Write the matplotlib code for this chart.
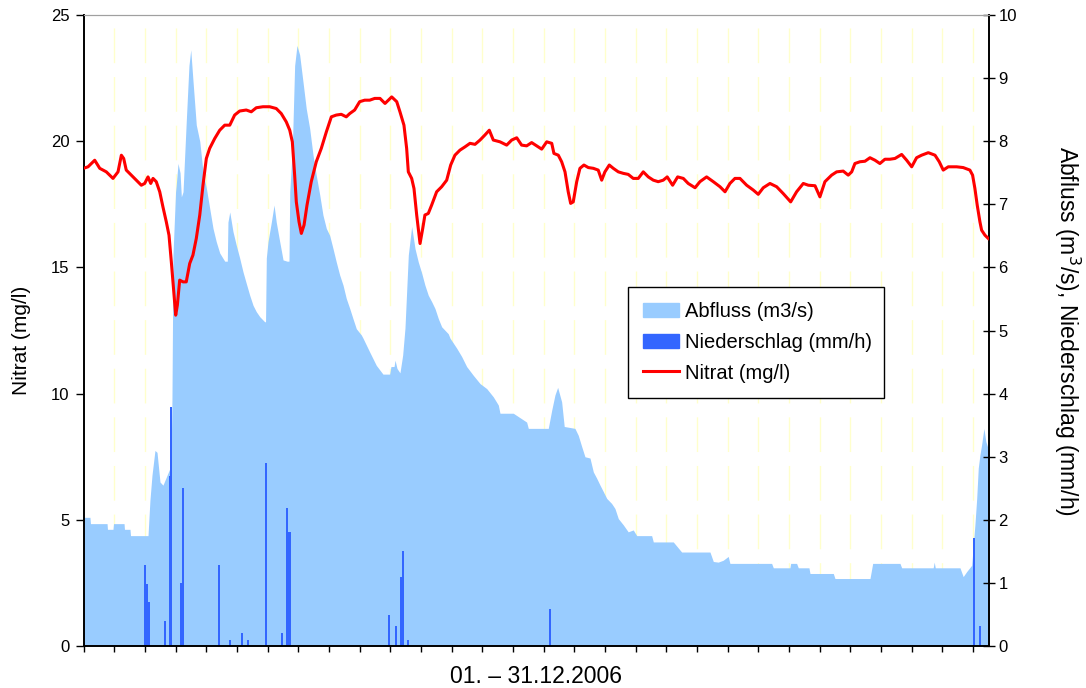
import matplotlib.pyplot as plt
import matplotlib.patches as mpatches
import matplotlib.lines as mlines
import numpy as np

plt.rcParams["font.family"] = ["Liberation Sans", "DejaVu Sans"]

# Zeitachse in Stunden ab 01.12.2006 00:00
T_END = 703.7

# Nitrat (mg/l), linke Achse
nitrat_t = [0, 3.5, 8.7, 12.6, 17.7, 22.9, 26.8, 29.4, 31.2, 33.2, 37.1, 41.0, 44.9,
            47.5, 50.1, 52.2, 54.0, 56.5, 59.2, 61.7, 64.3, 66.4, 68.2, 70.1, 71.6,
            72.9, 74.7, 77.3, 79.8, 82.5, 85.0, 87.6, 90.3, 92.8, 95.4, 98.0, 101.9,
            105.8, 109.7, 113.6, 117.4, 121.3, 126.4, 130.3, 134.2, 139.4, 144.6,
            149.7, 153.6, 157.5, 160.2, 162.2, 164.0, 165.3, 167.4, 169.2, 171.3,
            173.6, 176.9, 180.8, 184.7, 188.6, 192.5, 196.3, 200.2, 204.1, 206.8,
            210.6, 214.5, 218.4, 222.3, 226.2, 230.3, 234.2, 239.4, 243.3, 245.8,
            248.9, 251.0, 252.3, 254.9, 256.7, 258.8, 260.0, 261.4, 263.5, 265.2,
            267.8, 270.4, 274.3, 278.2, 282.1, 285.2, 288.5, 292.4, 296.3, 300.2,
            304.1, 308.0, 311.8, 315.2, 318.3, 323.5, 328.7, 332.6, 336.5, 340.3,
            344.2, 348.1, 352.0, 355.9, 359.8, 363.7, 365.4, 368.8, 371.4, 374.0,
            376.5, 378.4, 380.4, 383.1, 385.6, 388.7, 392.1, 396.0, 399.8, 402.5,
            405.0, 408.4, 411.5, 415.4, 419.3, 423.1, 427.0, 430.9, 434.8, 438.7,
            442.6, 446.4, 450.3, 453.4, 457.6, 461.5, 465.9, 469.7, 475.0, 478.8,
            484.0, 489.2, 494.4, 498.3, 502.1, 506.0, 509.9, 515.1, 520.2, 524.1,
            528.0, 533.2, 538.4, 543.5, 549.3, 553.9, 559.1, 563.0, 568.2, 572.0,
            575.9, 581.1, 585.0, 590.1, 594.0, 596.7, 599.2, 603.1, 607.0, 610.9,
            614.8, 618.6, 622.5, 626.4, 630.3, 635.5, 639.4, 643.3, 647.1, 651.0,
            656.2, 661.4, 664.7, 667.8, 671.7, 678.2, 683.3, 688.5, 690.6, 692.4,
            694.2, 696.3, 697.6, 700.2, 702.8]
nitrat = [18.93, 18.99, 19.25, 18.93, 18.79, 18.53, 18.79, 19.45, 19.32, 18.86, 18.66,
          18.46, 18.26, 18.33, 18.59, 18.33, 18.53, 18.40, 18.00, 17.40, 16.81, 16.28,
          15.23, 14.04, 13.11, 13.51, 14.50, 14.43, 14.43, 15.16, 15.49, 16.15, 17.08,
          18.26, 19.32, 19.72, 20.11, 20.44, 20.64, 20.64, 21.04, 21.20, 21.24, 21.17,
          21.33, 21.37, 21.37, 21.30, 21.10, 20.77, 20.44, 19.98, 18.66, 17.60, 16.81,
          16.35, 16.68, 17.47, 18.40, 19.19, 19.72, 20.37, 20.97, 21.04, 21.07, 20.97,
          21.10, 21.24, 21.57, 21.63, 21.63, 21.70, 21.70, 21.50, 21.76, 21.57, 21.17,
          20.64, 19.72, 18.79, 18.53, 18.13, 17.08, 16.55, 15.95, 16.55, 17.08, 17.14,
          17.47, 18.00, 18.20, 18.46, 19.06, 19.45, 19.65, 19.78, 19.92, 19.88, 20.05,
          20.25, 20.44, 20.05, 19.98, 19.85, 20.05, 20.14, 19.85, 19.82, 19.95, 19.82,
          19.69, 19.98, 19.92, 19.52, 19.45, 19.19, 18.79, 18.00, 17.54, 17.60, 18.40,
          18.93, 19.06, 18.96, 18.93, 18.86, 18.46, 18.79, 19.06, 18.93, 18.79, 18.73,
          18.69, 18.53, 18.53, 18.79, 18.59, 18.46, 18.40, 18.46, 18.59, 18.26, 18.59,
          18.53, 18.33, 18.16, 18.40, 18.59, 18.40, 18.20, 18.00, 18.33, 18.53, 18.53,
          18.26, 18.07, 17.90, 18.16, 18.33, 18.20, 17.93, 17.60, 18.00, 18.33, 18.26,
          18.24, 17.80, 18.40, 18.66, 18.79, 18.82, 18.66, 18.79, 19.12, 19.19, 19.21,
          19.35, 19.25, 19.12, 19.29, 19.29, 19.32, 19.48, 19.25, 18.99, 19.35, 19.45,
          19.55, 19.45, 19.19, 18.86, 18.99, 18.99, 18.96, 18.86, 18.66, 18.13, 17.47,
          16.81, 16.48, 16.28, 16.15]

# Abfluss (m3/s), rechte Achse
abfluss_t = [0, 5.0, 5.4, 18.3, 18.6, 22.9, 23.3, 31.5, 31.8, 36.1, 36.5, 50.1, 51.6,
             53.2, 55.5, 57.1, 59.4, 61.7, 67.2, 67.9, 68.7, 69.5, 71.5, 72.0, 73.4,
             75.0, 76.0, 77.3, 79.8, 81.9, 83.3, 85.0, 87.6, 90.3, 92.8, 95.4, 98.0,
             100.6, 103.1, 105.8, 109.7, 111.7, 112.2, 113.6, 116.1, 118.7, 121.3,
             123.9, 126.4, 129.1, 131.7, 134.2, 136.9, 140.7, 141.4, 142.0, 143.3,
             145.9, 148.0, 149.7, 152.4, 155.0, 158.1, 159.6, 160.2, 162.2, 164.0,
             165.8, 167.9, 170.5, 173.0, 175.7, 178.3, 180.8, 183.5, 186.0, 188.6,
             191.2, 193.8, 196.3, 199.0, 201.6, 204.1, 206.8, 209.3, 211.9, 215.8,
             217.1, 222.3, 227.4, 232.6, 237.8, 238.8, 241.2, 242.0, 243.5, 245.8,
             247.9, 249.7, 252.3, 254.9, 257.5, 260.0, 262.7, 265.2, 267.8, 270.4,
             273.0, 275.6, 278.2, 283.3, 284.7, 289.9, 293.7, 297.6, 302.8, 308.0,
             313.2, 318.3, 322.2, 323.5, 333.8, 344.2, 345.5, 361.0, 363.7, 366.2,
             368.3, 371.4, 373.4, 381.7, 384.3, 387.0, 389.5, 393.4, 396.0, 398.6,
             401.2, 403.7, 406.4, 410.2, 412.8, 415.4, 419.3, 423.1, 427.0, 429.7,
             441.3, 442.6, 458.1, 464.6, 486.6, 489.2, 493.0, 496.9, 500.8, 502.1,
             534.5, 535.8, 548.7, 549.3, 553.9, 555.2, 563.5, 564.3, 582.4, 583.7,
             610.9, 613.0, 634.2, 635.5, 660.0, 660.8, 661.6, 680.8, 683.3, 686.0,
             689.9, 692.4, 693.8, 695.0, 696.3, 697.6, 699.4, 700.9, 702.7, 703.7]
abfluss = [2.04, 2.04, 1.94, 1.94, 1.85, 1.85, 1.94, 1.94, 1.85, 1.85, 1.75, 1.75, 2.31,
           2.71, 3.10, 3.07, 2.60, 2.55, 2.82, 2.82, 3.90, 6.20, 7.20, 7.30, 7.65, 7.50,
           7.12, 7.20, 8.31, 9.20, 9.45, 8.97, 8.26, 8.00, 7.52, 7.26, 6.94, 6.62, 6.41,
           6.23, 6.10, 6.10, 6.72, 6.88, 6.57, 6.35, 6.15, 5.93, 5.75, 5.56, 5.40, 5.30,
           5.22, 5.14, 5.14, 6.15, 6.41, 6.72, 6.99, 6.72, 6.41, 6.12, 6.10, 6.10, 7.20,
           7.89, 9.20, 9.52, 9.37, 8.94, 8.52, 8.20, 7.78, 7.46, 7.15, 6.83, 6.62, 6.51,
           6.30, 6.09, 5.88, 5.72, 5.51, 5.35, 5.19, 5.03, 4.93, 4.88, 4.66, 4.45, 4.31,
           4.31, 4.43, 4.43, 4.53, 4.40, 4.33, 4.61, 5.04, 6.20, 6.65, 6.30, 6.09, 5.91,
           5.72, 5.56, 5.46, 5.35, 5.19, 5.06, 4.95, 4.88, 4.72, 4.59, 4.43, 4.29, 4.16,
           4.08, 3.95, 3.82, 3.69, 3.69, 3.55, 3.45, 3.45, 3.74, 3.98, 4.10, 3.87, 3.48,
           3.45, 3.34, 3.16, 3.00, 2.98, 2.76, 2.66, 2.55, 2.45, 2.34, 2.26, 2.18, 2.02,
           1.92, 1.81, 1.84, 1.75, 1.75, 1.65, 1.65, 1.49, 1.49, 1.34, 1.33, 1.36, 1.42,
           1.31, 1.31, 1.24, 1.24, 1.31, 1.31, 1.24, 1.24, 1.15, 1.15, 1.07, 1.07, 1.31,
           1.31, 1.24, 1.24, 1.33, 1.24, 1.24, 1.10, 1.18, 1.28, 1.92, 2.34, 2.82, 3.03,
           3.19, 3.45, 3.24, 3.13, 3.13]

# Niederschlag (mm/h), Stundenwerte, rechte Achse
regen_t = [48, 49, 51, 63, 67, 68, 76, 77, 105, 114, 123, 128, 142, 154, 158, 160,
           237, 243, 247, 248, 252, 362, 692, 696]
regen = [1.29, 0.99, 0.70, 0.40, 2.70, 3.79, 1.00, 2.50, 1.29, 0.10, 0.20, 0.10, 2.90,
         0.20, 2.19, 1.80, 0.49, 0.31, 1.10, 1.51, 0.10, 0.59, 1.71, 0.31]

fig = plt.figure(figsize=(10.86, 6.88), dpi=100)
ax = fig.add_axes([0.0769, 0.061, 0.8342, 0.917])
ax2 = ax.twinx()

# Abfluss und Niederschlag hinten, Nitrat vorne
ax.set_zorder(ax2.get_zorder() + 1)
ax.patch.set_visible(False)

day_ticks = np.linspace(0, 691, 30)
for t in day_ticks[1:]:
    ax2.axvline(t, color="#FFFFCC", lw=1, ls=(0, (25, 10)), zorder=0)

ax2.fill_between(abfluss_t, abfluss, 0, color="#99CCFF", lw=0, zorder=1)
ax2.bar(regen_t, regen, width=1.6, color="#3366FF", lw=0, align="center", zorder=2)
ax.plot(nitrat_t, nitrat, color="#FF0000", lw=2.2, zorder=3)

ax.set_xlim(0, T_END)
ax.set_ylim(0, 25)
ax2.set_ylim(0, 10)
ax.set_yticks(range(0, 26, 5))
ax2.set_yticks(range(0, 11))
ax.set_xticks(day_ticks)
ax.set_xticklabels([])

ax.tick_params(axis="x", direction="out", length=4, width=1)
ax.tick_params(axis="y", direction="out", length=6, width=1, labelsize=12, pad=4)
ax2.tick_params(axis="y", direction="inout", length=9, width=1, labelsize=12, pad=2)

for a in (ax, ax2):
    a.spines["top"].set_color("#A0A0A0")
    a.spines["left"].set_linewidth(1.2)
    a.spines["bottom"].set_linewidth(1.2)
    a.spines["right"].set_linewidth(1.2)

ax.set_ylabel("Nitrat (mg/l)", fontsize=15)
ax.yaxis.set_label_coords(-0.058, 0.485)
ax2.set_ylabel("Abfluss (m$^3$/s), Niederschlag (mm/h)", fontsize=16.5,
               rotation=270, labelpad=47)
ax.set_xlabel("01. – 31.12.2006", fontsize=16.5, labelpad=6)

handles = [
    mpatches.Patch(color="#99CCFF", label="Abfluss (m3/s)"),
    mpatches.Patch(color="#3366FF", label="Niederschlag (mm/h)"),
    mlines.Line2D([], [], color="#FF0000", lw=2.2, label="Nitrat (mg/l)"),
]
leg = ax.legend(handles=handles, loc="upper left",
                bbox_to_anchor=(0.601, 0.382, 0.2826, 0.187), mode="expand",
                fontsize=14.5, frameon=True, fancybox=False, framealpha=1,
                edgecolor="black", borderpad=0.75, labelspacing=0.58,
                handlelength=1.8, handleheight=0.7, handletextpad=0.3,
                borderaxespad=0)
leg.get_frame().set_linewidth(1.0)

fig.savefig("out.png", dpi=100)
